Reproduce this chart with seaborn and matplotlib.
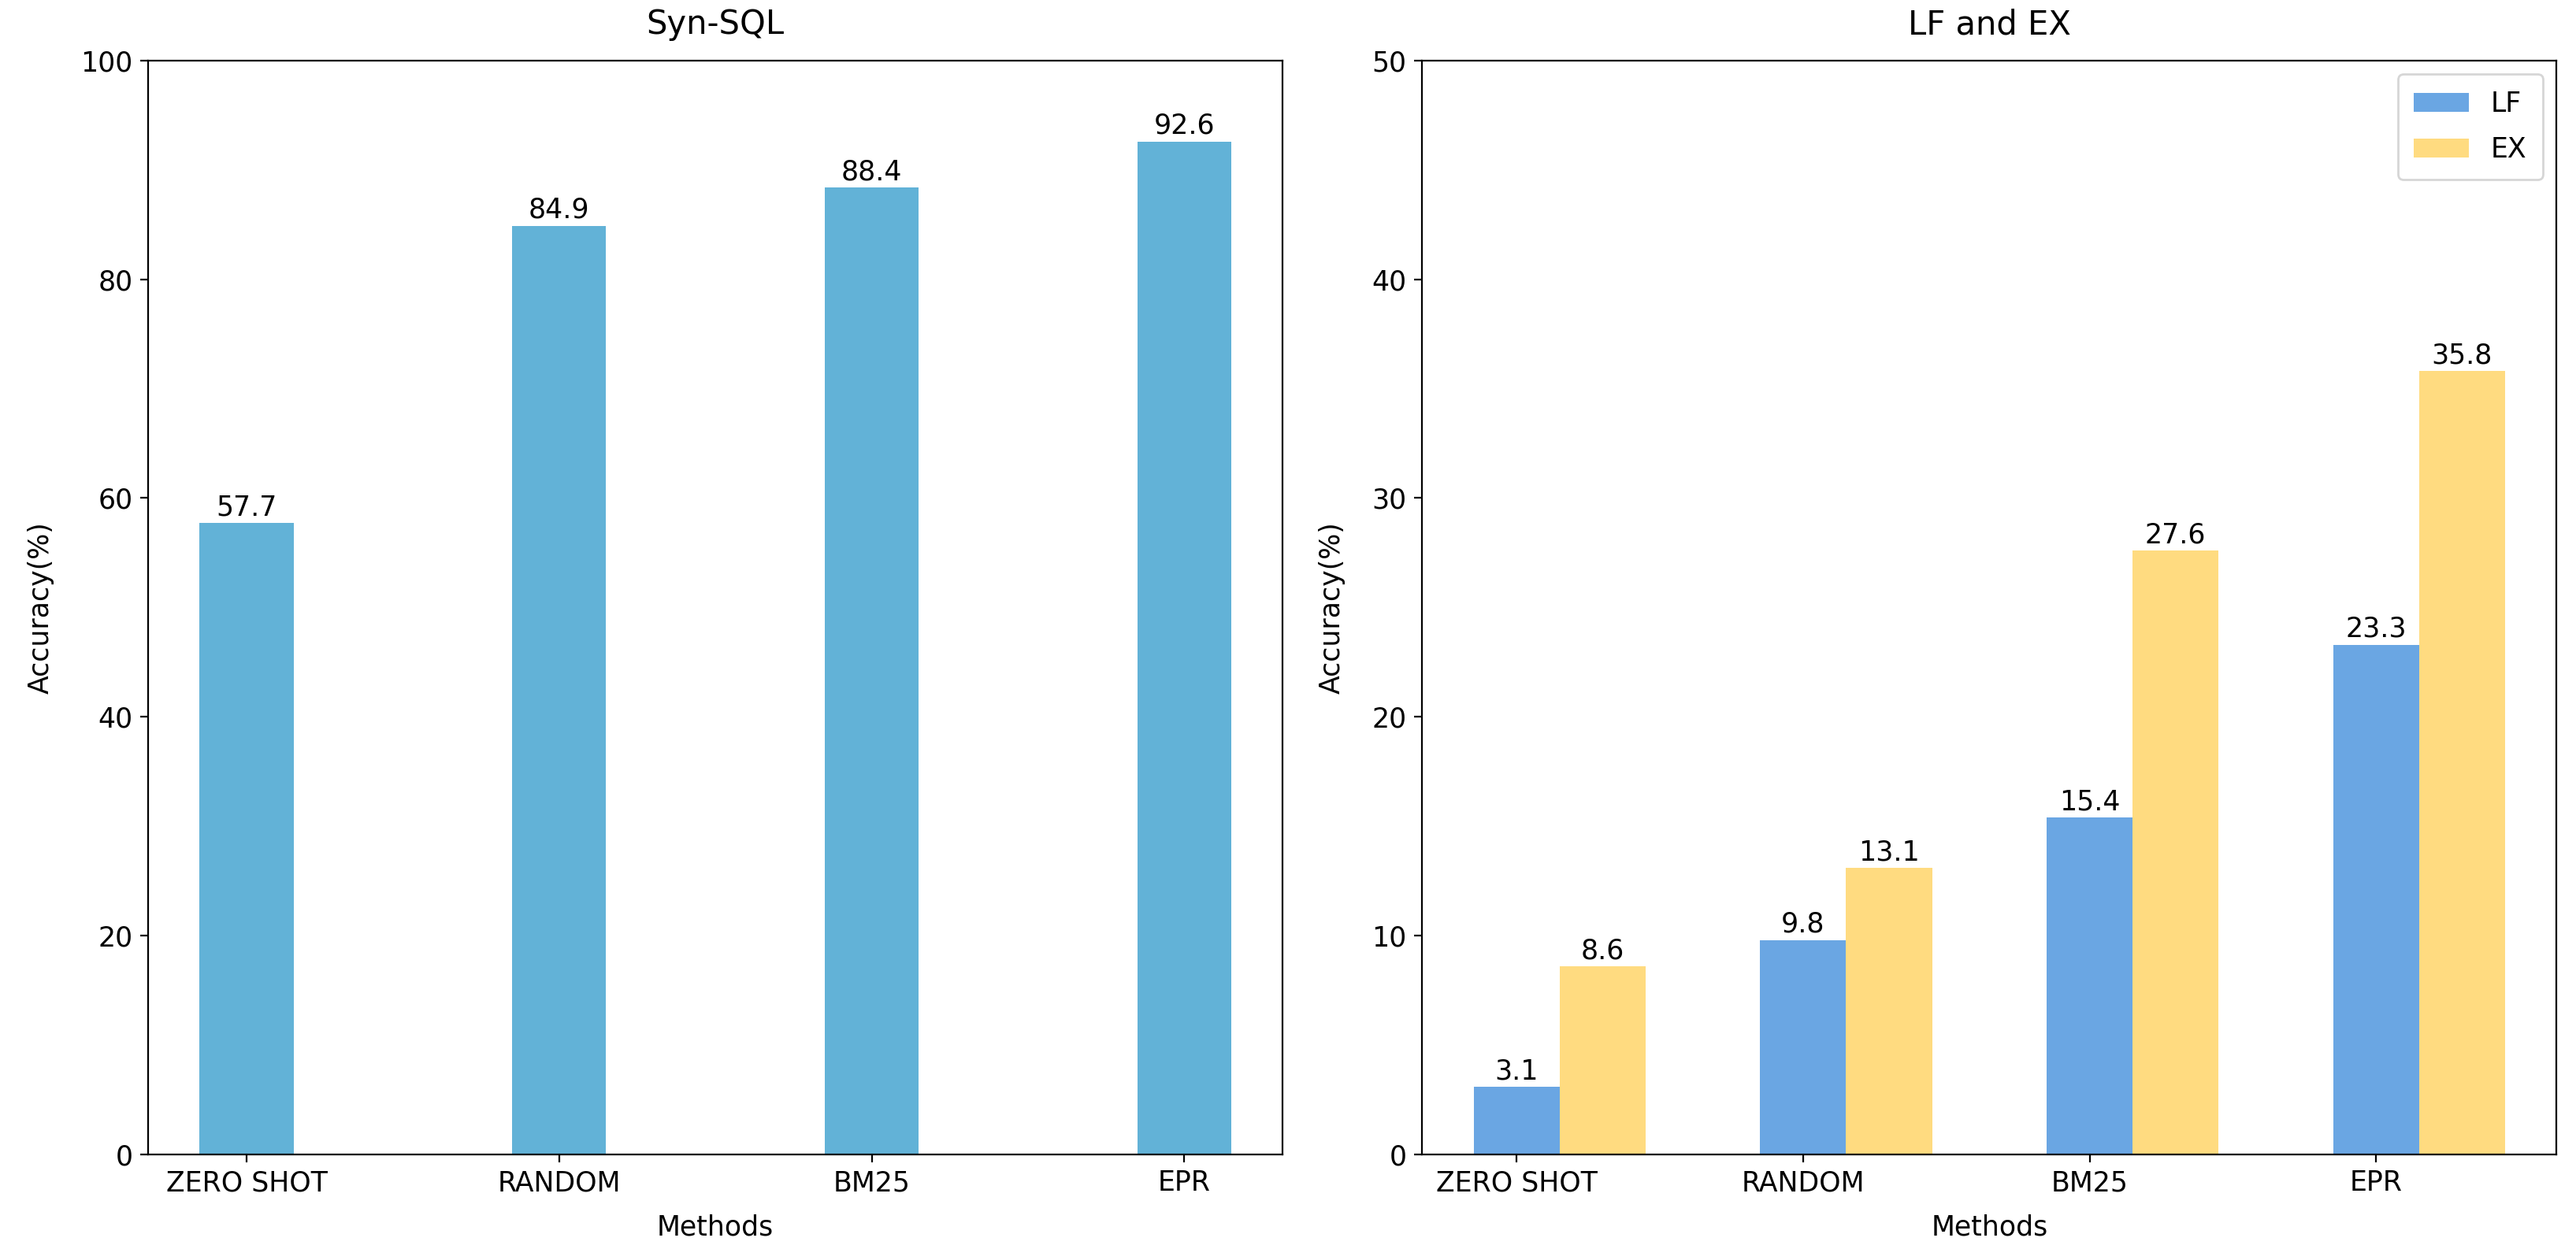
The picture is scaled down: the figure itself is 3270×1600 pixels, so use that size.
import matplotlib
matplotlib.use("Agg")
import matplotlib.pyplot as plt
import numpy as np
import pandas as pd
import seaborn as sns

# Dados
methods = ["ZERO SHOT", "RANDOM", "BM25", "EPR"]
syn_sql = [57.7, 84.9, 88.4, 92.6]
lf_acc = [3.1, 9.8, 15.4, 23.3]
ex_acc = [8.6, 13.1, 27.6, 35.8]

plt.rcParams["font.family"] = ["DejaVu Sans"]
plt.rcParams["font.size"] = 12.5
plt.rcParams["axes.titlesize"] = 15

fig = plt.figure(figsize=(16.35, 8), dpi=200)
ax1 = fig.add_axes([0.0575, 0.0838, 0.4405, 0.8682])
ax2 = fig.add_axes([0.552, 0.0838, 0.4405, 0.8682])

pos = np.arange(len(methods))

# --- Painel esquerdo: Syn-SQL ---
df_left = pd.DataFrame({"pos": pos, "acc": syn_sql})
sns.barplot(data=df_left, x="pos", y="acc", native_scale=True, width=0.3,
            color="#62b2d7", saturation=1, errorbar=None, ax=ax1)
ax1.bar_label(ax1.containers[0], fmt="%.1f", padding=1)
ax1.set_xticks(pos, methods)
ax1.set_ylim(0, 100)
ax1.set_title("Syn-SQL", pad=12)
ax1.set_xlabel("Methods", labelpad=8)
ax1.set_ylabel("Accuracy(%)", labelpad=12)

# --- Painel direito: LF e EX ---
df_lf = pd.DataFrame({"pos": pos, "acc": lf_acc})
df_ex = pd.DataFrame({"pos": pos + 0.3, "acc": ex_acc})
sns.barplot(data=df_lf, x="pos", y="acc", native_scale=True, width=0.3,
            color="#6aa6e3", saturation=1, errorbar=None, label="LF", ax=ax2)
sns.barplot(data=df_ex, x="pos", y="acc", native_scale=True, width=0.3,
            color="#ffdb80", saturation=1, errorbar=None, label="EX", ax=ax2)
for cont in ax2.containers:
    ax2.bar_label(cont, fmt="%.1f", padding=1)
ax2.set_xticks(pos, methods)
ax2.set_ylim(0, 50)
ax2.set_title("LF and EX", pad=12)
ax2.set_xlabel("Methods", labelpad=8)
ax2.set_ylabel("Accuracy(%)", labelpad=12)
ax2.legend(loc="upper right", labelspacing=0.7, borderpad=0.6)

fig.savefig("out.png", dpi=200)
